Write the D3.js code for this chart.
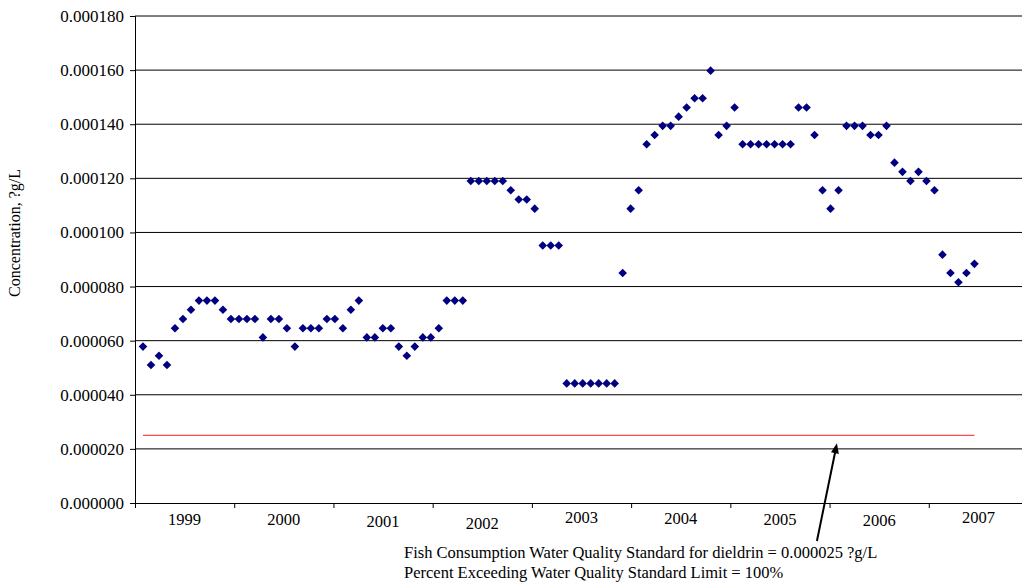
<!DOCTYPE html>
<html>
<head>
<meta charset="utf-8">
<script src="https://cdn.jsdelivr.net/npm/d3@7"></script>
<style>
  body { margin: 0; background: #fff; }
  svg { display: block; font-family: 'Liberation Serif', 'Times New Roman', serif; }
</style>
</head>
<body>
<svg width="1022" height="583"></svg>
<script>
const years = ['1999', '2000', '2001', '2002', '2003', '2004', '2005', '2006', '2007']
const yTicks = [0, 0.00002, 0.00004, 0.00006, 0.00008, 0.0001, 0.00012, 0.00014, 0.00016, 0.00018]
const standardValue = 0.000025

// dieldrin concentration, one value per sample
const dieldrin = [
  0.0000578, 0.0000510, 0.0000544, 0.0000510, 0.0000646, 0.0000680, 0.0000714, 0.0000748, 0.0000748, 0.0000748,
  0.0000714, 0.0000680, 0.0000680, 0.0000680, 0.0000680, 0.0000612, 0.0000680, 0.0000680, 0.0000646, 0.0000578,
  0.0000646, 0.0000646, 0.0000646, 0.0000680, 0.0000680, 0.0000646, 0.0000714, 0.0000748, 0.0000612, 0.0000612,
  0.0000646, 0.0000646, 0.0000578, 0.0000544, 0.0000578, 0.0000612, 0.0000612, 0.0000646, 0.0000748, 0.0000748,
  0.0000748, 0.0001190, 0.0001190, 0.0001190, 0.0001190, 0.0001190, 0.0001156, 0.0001122, 0.0001122, 0.0001088,
  0.0000952, 0.0000952, 0.0000952, 0.0000442, 0.0000442, 0.0000442, 0.0000442, 0.0000442, 0.0000442, 0.0000442,
  0.0000850, 0.0001088, 0.0001156, 0.0001326, 0.0001360, 0.0001394, 0.0001394, 0.0001428, 0.0001462, 0.0001496,
  0.0001496, 0.0001598, 0.0001360, 0.0001394, 0.0001462, 0.0001326, 0.0001326, 0.0001326, 0.0001326, 0.0001326,
  0.0001326, 0.0001326, 0.0001462, 0.0001462, 0.0001360, 0.0001156, 0.0001088, 0.0001156, 0.0001394, 0.0001394,
  0.0001394, 0.0001360, 0.0001360, 0.0001394, 0.0001258, 0.0001224, 0.0001190, 0.0001224, 0.0001190, 0.0001156,
  0.0000918, 0.0000850, 0.0000816, 0.0000850, 0.0000884
]

const notes = [
  'Fish Consumption Water Quality Standard for dieldrin = 0.000025 ?g/L',
  'Percent Exceeding Water Quality Standard Limit = 100%'
]

const margin = { top: 16, right: -6, bottom: 80, left: 135 }
const width = 1022, height = 583

const svg = d3.select('svg')

const y = d3.scaleLinear()
  .domain([0, 0.00018])
  .range([height - margin.bottom, margin.top])

// year bins along the bottom
const yearEdge = d3.scaleLinear()
  .domain([0, years.length])
  .range([margin.left, width - margin.right])

// sample position (1-based) along the same width
const x = d3.scaleLinear()
  .domain([0, 111.7])
  .range([margin.left, width - margin.right])

// gridlines
svg.append('g')
  .selectAll('line')
  .data(yTicks.slice(1))
  .enter().append('line')
  .attr('x1', margin.left)
  .attr('x2', width)
  .attr('y1', d => y(d))
  .attr('y2', d => y(d))
  .attr('stroke', '#000')
  .attr('stroke-width', 1)

// y axis
const yAxis = svg.append('g')
  .attr('transform', `translate(${margin.left},0)`)
  .call(d3.axisLeft(y).tickValues(yTicks).tickSize(5).tickPadding(6).tickFormat(d => d.toFixed(6)))
yAxis.selectAll('text')
  .attr('font-size', 17)
  .attr('font-family', 'Liberation Serif')
  .attr('fill', '#000')
yAxis.select('.domain').attr('stroke', '#000')

// x axis: ticks on the year boundaries, labels in the middle
const xAxis = svg.append('g')
  .attr('transform', `translate(0,${y(0)})`)
  .call(d3.axisBottom(yearEdge).tickValues(d3.range(years.length + 1)).tickSize(5).tickSizeOuter(0).tickFormat(''))
xAxis.select('.domain').attr('stroke', '#000')

const labelNudge = [0, 0, 2, 4, -2, -1, 0, 1, -2]
svg.append('g')
  .selectAll('text')
  .data(years)
  .enter().append('text')
  .attr('x', (d, i) => yearEdge(i + 0.5))
  .attr('y', (d, i) => y(0) + 22 + labelNudge[i])
  .attr('text-anchor', 'middle')
  .attr('font-size', 16.5)
  .text(d => d)

// y title
svg.append('text')
  .attr('transform', 'translate(20,233) rotate(-90)')
  .attr('text-anchor', 'middle')
  .attr('font-size', 16)
  .text('Concentration, ?g/L')

// water quality standard
svg.append('line')
  .attr('x1', x(1))
  .attr('x2', x(dieldrin.length))
  .attr('y1', y(standardValue))
  .attr('y2', y(standardValue))
  .attr('stroke', '#ff4a4a')
  .attr('stroke-width', 1.2)

// samples
svg.append('g')
  .selectAll('path')
  .data(dieldrin)
  .enter().append('path')
  .attr('transform', (d, i) => `translate(${x(i + 1)},${y(d)})`)
  .attr('d', 'M0,-4.3L4.3,0L0,4.3L-4.3,0Z')
  .attr('fill', '#000080')

// annotation arrow
const tipX = x(87.8), tipY = y(standardValue) + 8
const tailX = tipX - 20, tailY = 541
const ang = Math.atan2(tipY - tailY, tipX - tailX)
svg.append('line')
  .attr('x1', tailX).attr('y1', tailY)
  .attr('x2', tipX - 8 * Math.cos(ang)).attr('y2', tipY - 8 * Math.sin(ang))
  .attr('stroke', '#000')
  .attr('stroke-width', 2)
const head = [
  [tipX, tipY],
  [tipX - 10 * Math.cos(ang) + 4 * Math.sin(ang), tipY - 10 * Math.sin(ang) - 4 * Math.cos(ang)],
  [tipX - 10 * Math.cos(ang) - 4 * Math.sin(ang), tipY - 10 * Math.sin(ang) + 4 * Math.cos(ang)]
]
svg.append('path')
  .attr('d', d3.line()(head) + 'Z')
  .attr('fill', '#000')

svg.append('g')
  .selectAll('text')
  .data(notes)
  .enter().append('text')
  .attr('x', 404)
  .attr('y', (d, i) => 558 + i * 20)
  .attr('font-size', 16.5)
  .text(d => d)
</script>
</body>
</html>
